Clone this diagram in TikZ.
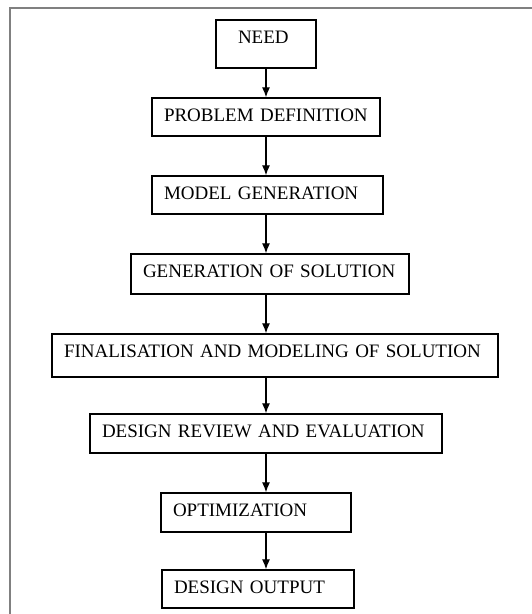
\documentclass[tikz,border=0pt]{standalone}
\usepackage{fontspec}
\setmainfont{Liberation Serif}
\usetikzlibrary{positioning,arrows.meta}

\begin{document}
\begin{tikzpicture}[x=1pt, y=1pt, node distance=78pt, >={Latex[length=10pt,width=8pt]}, stage/.style={rectangle, draw, line width=1.4pt, align=left, inner xsep=12pt, inner ysep=0pt, text height=23pt, text depth=15pt, font=\fontsize{19}{22}\selectfont}, frame/.style={draw=gray, line width=1.2pt}]

\useasboundingbox (0,0) rectangle (532,-614);
\draw[frame] (532,-8) -- (10,-8) -- (10,-614);

\node[stage, text width=56pt, inner xsep=22pt, text depth=25pt] (need) at (266,-44) {NEED};
\node[stage, text width=204pt, below of=need, node distance=73pt] (probdef) {PROBLEM DEFINITION};
\node[stage, text width=207pt, below of=probdef, xshift=1.5pt] (modelgen) {MODEL GENERATION};
\node[stage, text width=254pt, text depth=17pt, below of=modelgen, node distance=79pt, xshift=2.5pt] (solgen) {GENERATION OF SOLUTION};
\node[stage, text width=422pt, text depth=20pt, below of=solgen, node distance=81.5pt, xshift=5pt] (final) {FINALISATION AND MODELING OF SOLUTION};
\node[stage, text width=328pt, text depth=16pt, below of=final, xshift=-9pt] (review) {DESIGN REVIEW AND EVALUATION};
\node[stage, text width=166pt, text depth=16pt, below of=review, node distance=79pt, xshift=-10pt] (optim) {OPTIMIZATION};
\node[stage, text width=168pt, below of=optim, node distance=76.5pt, xshift=2pt] (output) {DESIGN OUTPUT};

\draw[->, line width=1.1pt] (need) -- (probdef);
\draw[->, line width=1.1pt] (probdef.south -| need) -- (modelgen.north -| need);
\draw[->, line width=1.1pt] (modelgen.south -| need) -- (solgen.north -| need);
\draw[->, line width=1.1pt] (solgen.south -| need) -- (final.north -| need);
\draw[->, line width=1.1pt] (final.south -| need) -- (review.north -| need);
\draw[->, line width=1.1pt] (review.south -| need) -- (optim.north -| need);
\draw[->, line width=1.1pt] (optim.south -| need) -- (output.north -| need);

\end{tikzpicture}
\end{document}
